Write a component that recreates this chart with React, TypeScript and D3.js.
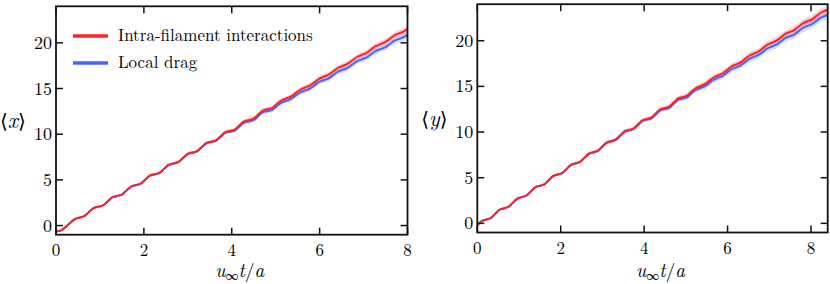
import React from 'react';
import * as d3 from 'd3';

// sample times u_inf t / a
const times = [0, 0.107, 0.214, 0.321, 0.428, 0.535, 0.642, 0.749, 0.856, 0.963, 1.07, 1.177, 1.284, 1.391, 1.498, 1.605, 1.712, 1.819, 1.926, 2.033, 2.14, 2.247, 2.354, 2.461, 2.568, 2.675, 2.782, 2.889, 2.996, 3.103, 3.21, 3.317, 3.424, 3.531, 3.638, 3.745, 3.852, 3.959, 4.066, 4.173, 4.28, 4.387, 4.494, 4.601, 4.708, 4.815, 4.922, 5.029, 5.136, 5.243, 5.35, 5.457, 5.564, 5.671, 5.778, 5.885, 5.992, 6.099, 6.206, 6.313, 6.42, 6.527, 6.634, 6.741, 6.848, 6.955, 7.062, 7.169, 7.276, 7.383, 7.49, 7.597, 7.704, 7.811, 7.918, 8.025, 8.132, 8.239, 8.346, 8.453];

// <x>
const xIntra = [-0.62, -0.55, -0.18, 0.29, 0.70, 0.88, 1.03, 1.48, 1.92, 2.07, 2.21, 2.66, 3.11, 3.25, 3.40, 3.85, 4.29, 4.44, 4.59, 5.03, 5.48, 5.62, 5.77, 6.22, 6.66, 6.81, 6.96, 7.40, 7.85, 8.00, 8.14, 8.59, 9.04, 9.18, 9.33, 9.77, 10.22, 10.37, 10.51, 10.96, 11.41, 11.55, 11.70, 12.15, 12.59, 12.74, 12.88, 13.33, 13.71, 13.92, 14.14, 14.52, 14.89, 15.11, 15.33, 15.70, 16.08, 16.30, 16.51, 16.89, 17.26, 17.48, 17.70, 18.07, 18.45, 18.67, 18.88, 19.26, 19.64, 19.85, 20.07, 20.44, 20.82, 21.04, 21.25, 21.63, 22.01];
const xLocal = [-0.62, -0.56, -0.19, 0.28, 0.69, 0.87, 1.02, 1.47, 1.91, 2.06, 2.20, 2.64, 3.09, 3.23, 3.38, 3.83, 4.27, 4.42, 4.57, 5.01, 5.46, 5.60, 5.74, 6.19, 6.63, 6.78, 6.93, 7.37, 7.82, 7.97, 8.11, 8.58, 9.01, 9.14, 9.27, 9.70, 10.14, 10.27, 10.40, 10.83, 11.27, 11.40, 11.53, 11.97, 12.40, 12.53, 12.66, 13.09, 13.46, 13.66, 13.86, 14.23, 14.59, 14.79, 14.99, 15.36, 15.72, 15.93, 16.12, 16.49, 16.85, 17.05, 17.26, 17.62, 17.98, 18.19, 18.38, 18.75, 19.11, 19.31, 19.51, 19.87, 20.24, 20.44, 20.64, 21.00, 21.37];
const xSpread = [0, 0.01, 0.01, 0.02, 0.02, 0.03, 0.03, 0.04, 0.04, 0.05, 0.05, 0.06, 0.06, 0.07, 0.07, 0.08, 0.08, 0.09, 0.09, 0.10, 0.10, 0.11, 0.11, 0.12, 0.12, 0.13, 0.13, 0.14, 0.14, 0.15, 0.15, 0.16, 0.16, 0.17, 0.17, 0.18, 0.18, 0.19, 0.19, 0.20, 0.20, 0.21, 0.21, 0.22, 0.22, 0.23, 0.23, 0.24, 0.24, 0.25, 0.25, 0.26, 0.26, 0.27, 0.27, 0.28, 0.28, 0.29, 0.29, 0.30, 0.30, 0.31, 0.31, 0.32, 0.32, 0.33, 0.33, 0.34, 0.34, 0.35, 0.35, 0.36, 0.36, 0.37, 0.37, 0.38, 0.38];

// <y>
const yIntra = [-0.20, 0.26, 0.42, 0.58, 1.04, 1.50, 1.66, 1.82, 2.28, 2.73, 2.89, 3.05, 3.51, 3.97, 4.12, 4.28, 4.74, 5.19, 5.35, 5.51, 5.96, 6.42, 6.57, 6.73, 7.18, 7.64, 7.79, 7.95, 8.40, 8.85, 9.01, 9.16, 9.61, 10.07, 10.22, 10.37, 10.82, 11.27, 11.43, 11.58, 12.03, 12.48, 12.63, 12.78, 13.23, 13.68, 13.83, 13.98, 14.43, 14.81, 15.03, 15.25, 15.63, 16.00, 16.22, 16.44, 16.82, 17.20, 17.41, 17.63, 18.01, 18.38, 18.60, 18.82, 19.19, 19.57, 19.78, 20.00, 20.37, 20.75, 20.96, 21.17, 21.55, 21.92, 22.14, 22.35, 22.72, 23.09, 23.31, 23.52];
const yLocal = [-0.20, 0.25, 0.41, 0.57, 1.03, 1.49, 1.65, 1.81, 2.27, 2.72, 2.88, 3.04, 3.50, 3.95, 4.11, 4.27, 4.72, 5.18, 5.34, 5.49, 5.95, 6.40, 6.56, 6.71, 7.17, 7.62, 7.78, 7.93, 8.38, 8.84, 8.99, 9.15, 9.60, 10.05, 10.21, 10.34, 10.78, 11.22, 11.37, 11.50, 11.94, 12.38, 12.51, 12.65, 13.09, 13.53, 13.66, 13.80, 14.24, 14.61, 14.81, 15.02, 15.39, 15.74, 15.95, 16.16, 16.53, 16.89, 17.09, 17.30, 17.66, 18.02, 18.23, 18.44, 18.79, 19.16, 19.36, 19.56, 19.92, 20.29, 20.49, 20.68, 21.05, 21.41, 21.62, 21.81, 22.17, 22.53, 22.73, 22.93];
const ySpread = [0, 0.01, 0.01, 0.02, 0.02, 0.03, 0.04, 0.04, 0.05, 0.05, 0.06, 0.07, 0.07, 0.08, 0.08, 0.09, 0.10, 0.10, 0.11, 0.11, 0.12, 0.13, 0.13, 0.14, 0.14, 0.15, 0.16, 0.16, 0.17, 0.17, 0.18, 0.19, 0.19, 0.20, 0.20, 0.21, 0.22, 0.22, 0.23, 0.23, 0.24, 0.25, 0.25, 0.26, 0.26, 0.27, 0.28, 0.28, 0.29, 0.29, 0.30, 0.31, 0.31, 0.32, 0.32, 0.33, 0.34, 0.34, 0.35, 0.35, 0.36, 0.37, 0.37, 0.38, 0.38, 0.39, 0.40, 0.40, 0.41, 0.41, 0.42, 0.43, 0.43, 0.44, 0.44, 0.45, 0.46, 0.46, 0.47, 0.47];

const xTicks = [0, 2, 4, 6, 8];
const yTicks = [0, 5, 10, 15, 20];
const legendLabels = ['Intra-filament interactions', 'Local drag'];

const RED = '#ff2222';
const BLUE = '#4466ff';
const FONT = "'Latin Modern Roman', 'CMU Serif', 'Liberation Serif', serif";
const TICK = 7;
const XLABEL_Y = 276.5;

type PanelProps = {
  id: string;
  left: number; right: number; top: number; bottom: number;
  xMax: number;
  intra: number[]; local: number[]; spread: number[];
  varName: string;
  legend?: boolean;
};

function Panel({ id, left, right, top, bottom, xMax, intra, local, spread, varName, legend }: PanelProps) {
  const x = d3.scaleLinear().domain([0, xMax]).range([left, right]);
  const y = d3.scaleLinear().domain([-1, 24]).range([bottom, top]);

  const rows = (vals: number[]) =>
    vals.map((v, i) => ({ t: times[i], v, s: spread[i] ?? 0 }));

  const line = d3.line<{ t: number; v: number }>()
    .x(d => x(d.t)).y(d => y(d.v))
    .curve(d3.curveCatmullRom.alpha(0.5));
  const band = d3.area<{ t: number; v: number; s: number }>()
    .x(d => x(d.t)).y0(d => y(d.v - d.s)).y1(d => y(d.v + d.s))
    .curve(d3.curveCatmullRom.alpha(0.5));

  const red = rows(intra);
  const blue = rows(local);
  const cx = (left + right) / 2 + 8;

  return (
    <g>
      <defs>
        <clipPath id={id}>
          <rect x={left} y={top} width={right - left} height={bottom - top} />
        </clipPath>
      </defs>
      <g clipPath={`url(#${id})`}>
        <path d={band(blue) ?? ''} fill={BLUE} fillOpacity={0.22} />
        <path d={band(red) ?? ''} fill={RED} fillOpacity={0.2} />
        <path d={line(blue) ?? ''} fill="none" stroke={BLUE} strokeWidth={2} />
        <path d={line(red) ?? ''} fill="none" stroke={RED} strokeWidth={2} />
      </g>

      {xTicks.map(t => (
        <g key={'x' + t}>
          <line x1={x(t)} x2={x(t)} y1={bottom} y2={bottom - TICK} stroke="#111" strokeWidth={1.5} />
          <line x1={x(t)} x2={x(t)} y1={top} y2={top + TICK} stroke="#111" strokeWidth={1.5} />
          <text x={x(t)} y={bottom + 21} textAnchor="middle" fontSize={17} fontFamily={FONT}>{t}</text>
        </g>
      ))}
      {yTicks.map(v => (
        <g key={'y' + v}>
          <line x1={left} x2={left + TICK} y1={y(v)} y2={y(v)} stroke="#111" strokeWidth={1.5} />
          <line x1={right} x2={right - TICK} y1={y(v)} y2={y(v)} stroke="#111" strokeWidth={1.5} />
          <text x={left - 4} y={y(v) + 6} textAnchor="end" fontSize={18} fontFamily={FONT}>{v}</text>
        </g>
      ))}

      <rect x={left} y={top} width={right - left} height={bottom - top} fill="none" stroke="#111" strokeWidth={1.8} />

      <text x={left - 56} y={y(10.7)} fontSize={22} fontFamily={FONT}>
        <tspan fontFamily="'DejaVu Serif', serif" fontSize={20}>⟨</tspan>
        <tspan fontStyle="italic">{varName}</tspan>
        <tspan fontFamily="'DejaVu Serif', serif" fontSize={20}>⟩</tspan>
      </text>

      <text x={cx} y={XLABEL_Y} textAnchor="middle" fontSize={19} fontFamily={FONT}>
        <tspan fontStyle="italic">u</tspan>
        <tspan fontSize={13} dy={3}>∞</tspan>
        <tspan fontStyle="italic" dy={-3}>t</tspan>
        <tspan>/</tspan>
        <tspan fontStyle="italic">a</tspan>
      </text>

      {legend && legendLabels.map((label, i) => (
        <g key={label}>
          <line x1={left + 17} x2={left + 52} y1={36 + i * 27} y2={36 + i * 27}
            stroke={i === 0 ? RED : BLUE} strokeWidth={3.5} />
          <text x={left + 62} y={41 + i * 27} fontSize={17} fontFamily={FONT}>{label}</text>
        </g>
      ))}
    </g>
  );
}

export default function App() {
  return (
    <svg width={830} height={284} style={{ position: 'absolute', left: 0, top: 0, background: '#fff' }}>
      <Panel id="clipL" left={56} right={407.5} top={6.3} bottom={234.7} xMax={8}
        intra={xIntra} local={xLocal} spread={xSpread} varName="x" legend />
      <Panel id="clipR" left={477.3} right={827.7} top={4.2} bottom={232.5} xMax={8.4}
        intra={yIntra} local={yLocal} spread={ySpread} varName="y" />
    </svg>
  );
}
